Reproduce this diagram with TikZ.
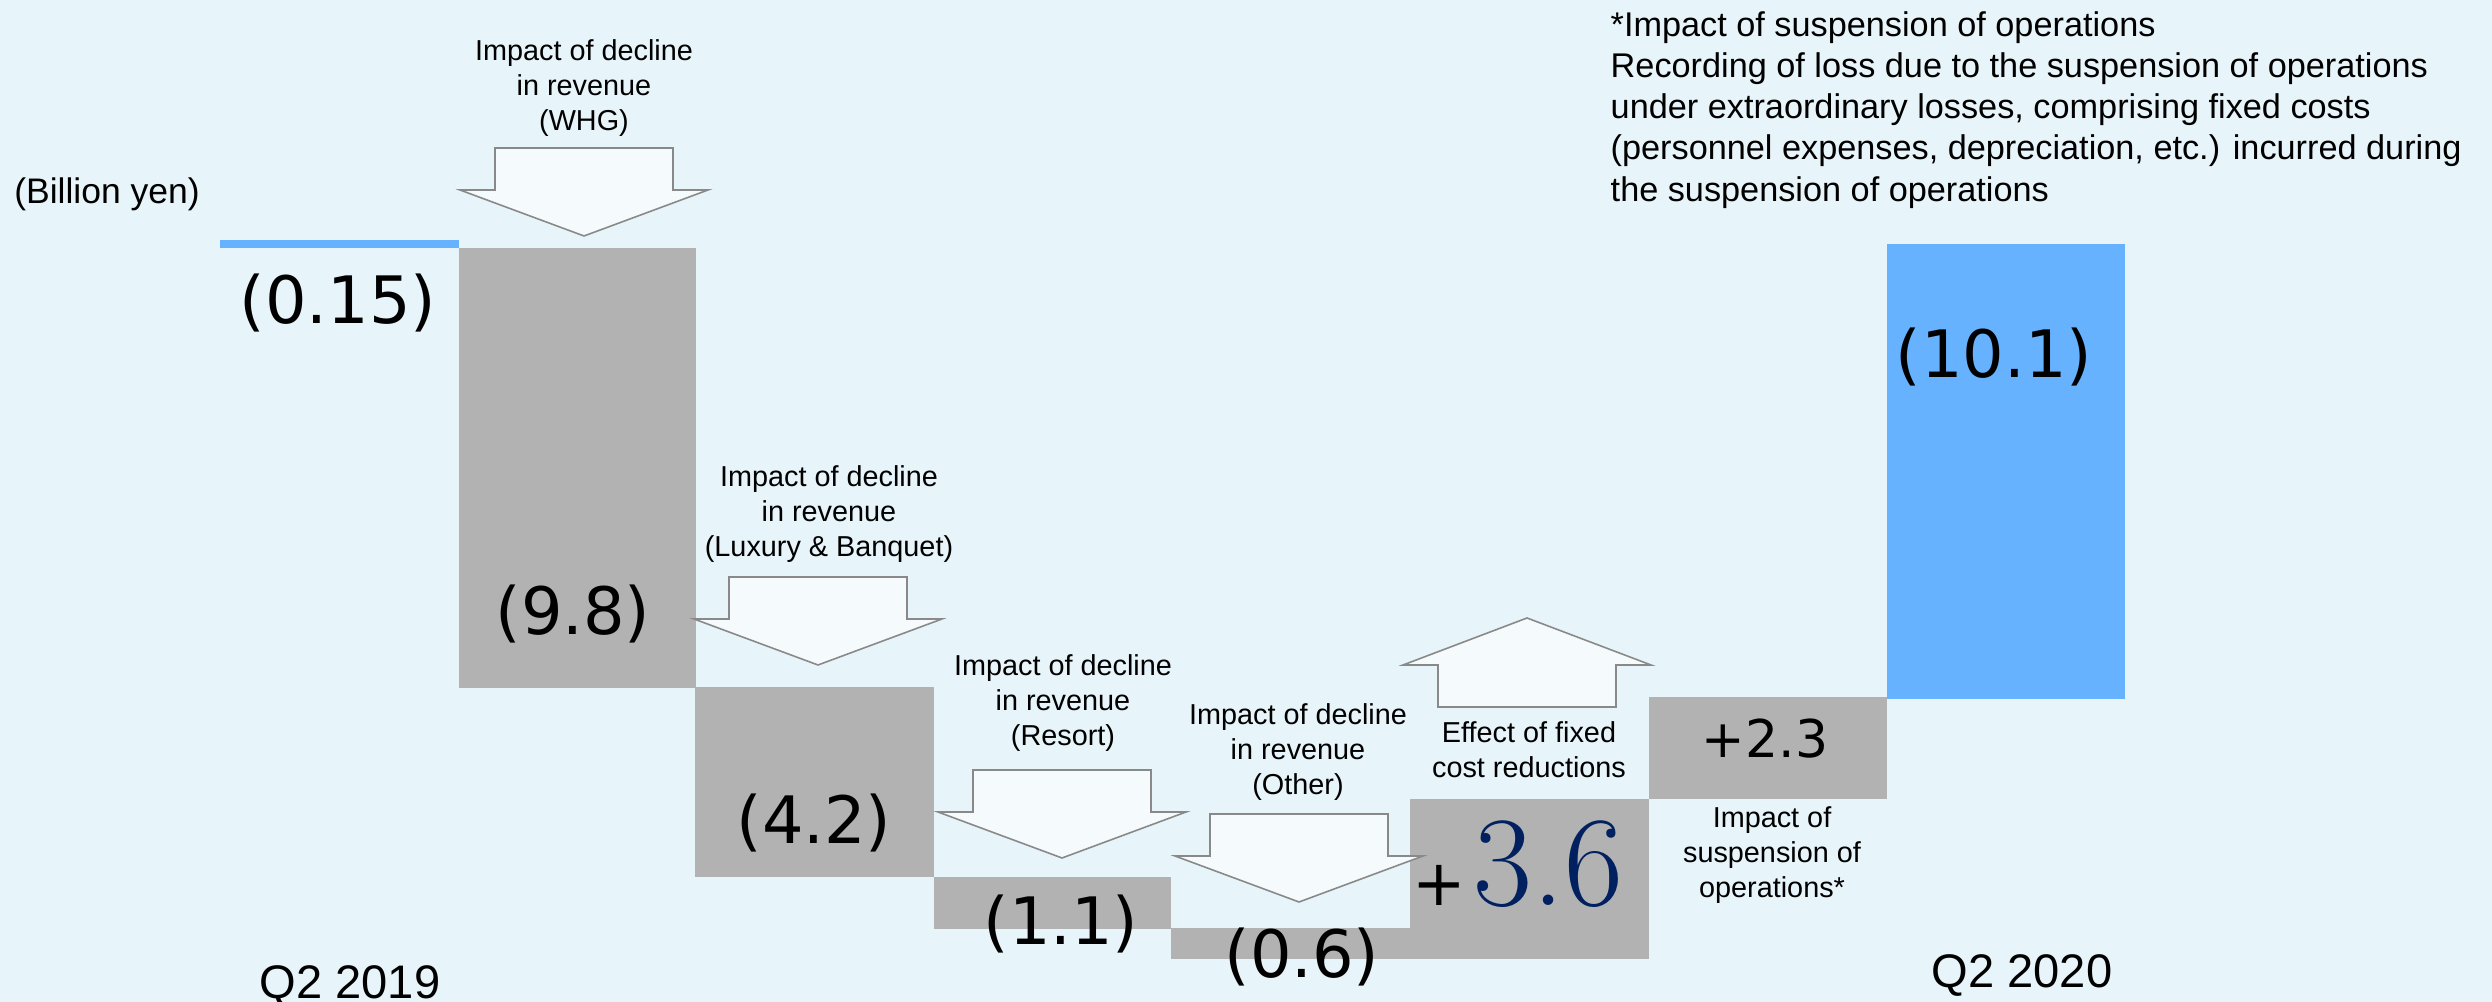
\documentclass[tikz,border=0pt]{standalone}
\usepackage{fontspec}
\setmainfont{Liberation Sans}
\newfontfamily\numfont{DejaVu Sans}
\newfontfamily\bignumfont{Latin Modern Roman}
\usepackage{xcolor}
\definecolor{ChartBack}{RGB}{231,244,249}
\definecolor{ChartGray}{RGB}{178,178,178}
\definecolor{ChartBlue}{RGB}{102,178,255}
\definecolor{ChartNavy}{RGB}{0,32,96}
\definecolor{ArrowFill}{RGB}{245,251,252}
\definecolor{ArrowLine}{RGB}{137,137,137}

\tikzset{
  pics/dropbox/.style={code={
    \draw[arrowbox] (-89,0) -- (89,0) -- (89,42) -- (124,42) -- (0,88) -- (-124,42) -- (-89,42) -- cycle;}},
  pics/risebox/.style={code={
    \draw[arrowbox] (-89,89) -- (89,89) -- (89,47) -- (124,47) -- (0,0) -- (-124,47) -- (-89,47) -- cycle;}}
}

\begin{document}
\begin{tikzpicture}[x=0.1mm, y=-0.1mm,
    bar/.style={fill=ChartGray, inner sep=0pt, anchor=north west},
    arrowbox/.style={draw=ArrowLine, fill=ArrowFill, line width=0.45pt},
    lbl/.style={align=center, inner sep=0pt, font=\fontsize{8.2}{10}\selectfont},
    val/.style={inner sep=0pt, font=\numfont\fontsize{18.6}{22}\selectfont}]
  % Background
  \fill[ChartBack] (0,0) rectangle (2492,1002);
  \useasboundingbox (0,0) rectangle (2492,1002);

  % Bars
  \node[bar, fill=ChartBlue, minimum width=23.9mm, minimum height=0.8mm] (base) at (219,239) {};
  \node[bar, minimum width=23.7mm, minimum height=44mm] (whg) at (458,247) {};
  \node[bar, minimum width=23.9mm, minimum height=19mm] (luxury) at (694,686) {};
  \node[bar, minimum width=23.7mm, minimum height=5.2mm] (resort) at (933,876) {};
  \node[bar, minimum width=23.9mm, minimum height=3.1mm] (other) at (1170,927) {};
  \node[bar, minimum width=23.9mm, minimum height=16mm] (fixed) at (1409,798) {};
  \node[bar, minimum width=23.8mm, minimum height=10.2mm] (susp) at (1648,696) {};
  \node[bar, fill=ChartBlue, minimum width=23.8mm, minimum height=45.5mm] (result) at (1886,243) {};

  % Values
  \node[val] (baseval) at (338,303) {(0.15)};
  \node[val] (whgval) at (573,614) {(9.8)};
  \node[val] (luxuryval) at (814,823) {(4.2)};
  \node[val] (resortval) at (1061,924) {(1.1)};
  \node[val] (otherval) at (1302,957) {(0.6)};
  \node[val] (resultval) at (1994,357) {(10.1)};
  \node[inner sep=0pt, font=\numfont\fontsize{14.8}{17}\selectfont] (suspval) at (1765,739) {+2.3};
  \node[inner sep=0pt, anchor=base west] (fixedval) at (1412,906)
    {{\numfont\fontsize{18.2}{21}\selectfont +}\hspace{2pt}{\bignumfont\fontsize{36.5}{42}\selectfont\color{ChartNavy}3.6}};

  % Block arrows
  \pic at (584,148) {dropbox};
  \pic at (818,577) {dropbox};
  \pic at (1062,770) {dropbox};
  \pic at (1299,814) {dropbox};
  \pic at (1527,618) {risebox};

  % Labels
  \node[lbl] (whglbl) at (584,88) {Impact of decline\\in revenue\\(WHG)};
  \node[lbl] (luxurylbl) at (829,514) {Impact of decline\\in revenue\\(Luxury \& Banquet)};
  \node[lbl] (resortlbl) at (1063,703) {Impact of decline\\in revenue\\(Resort)};
  \node[lbl] (otherlbl) at (1298,752) {Impact of decline\\in revenue\\(Other)};
  \node[lbl] (fixedlbl) at (1529,750) {Effect of fixed\\cost reductions};
  \node[lbl] (susplbl) at (1772,855) {Impact of\\suspension of\\operations*};
  \node[inner sep=0pt, anchor=base, font=\fontsize{10.1}{12}\selectfont] (unit) at (107,204) {(Billion yen)};
  \node[inner sep=0pt, anchor=north west, align=left, font=\fontsize{9.75}{11.7}\selectfont] (note) at (1610,11)
    {*Impact of suspension of operations\\
     Recording of loss due to the suspension of operations\\
     under extraordinary losses, comprising fixed costs\\
     (personnel expenses, depreciation, etc.) incurred during\\
     the suspension of operations};
  \node[inner sep=0pt, anchor=base, font=\fontsize{13.4}{16}\selectfont] (start) at (350,999) {Q2 2019};
  \node[inner sep=0pt, anchor=base, font=\fontsize{13.4}{16}\selectfont] (finish) at (2022,988) {Q2 2020};
\end{tikzpicture}
\end{document}
